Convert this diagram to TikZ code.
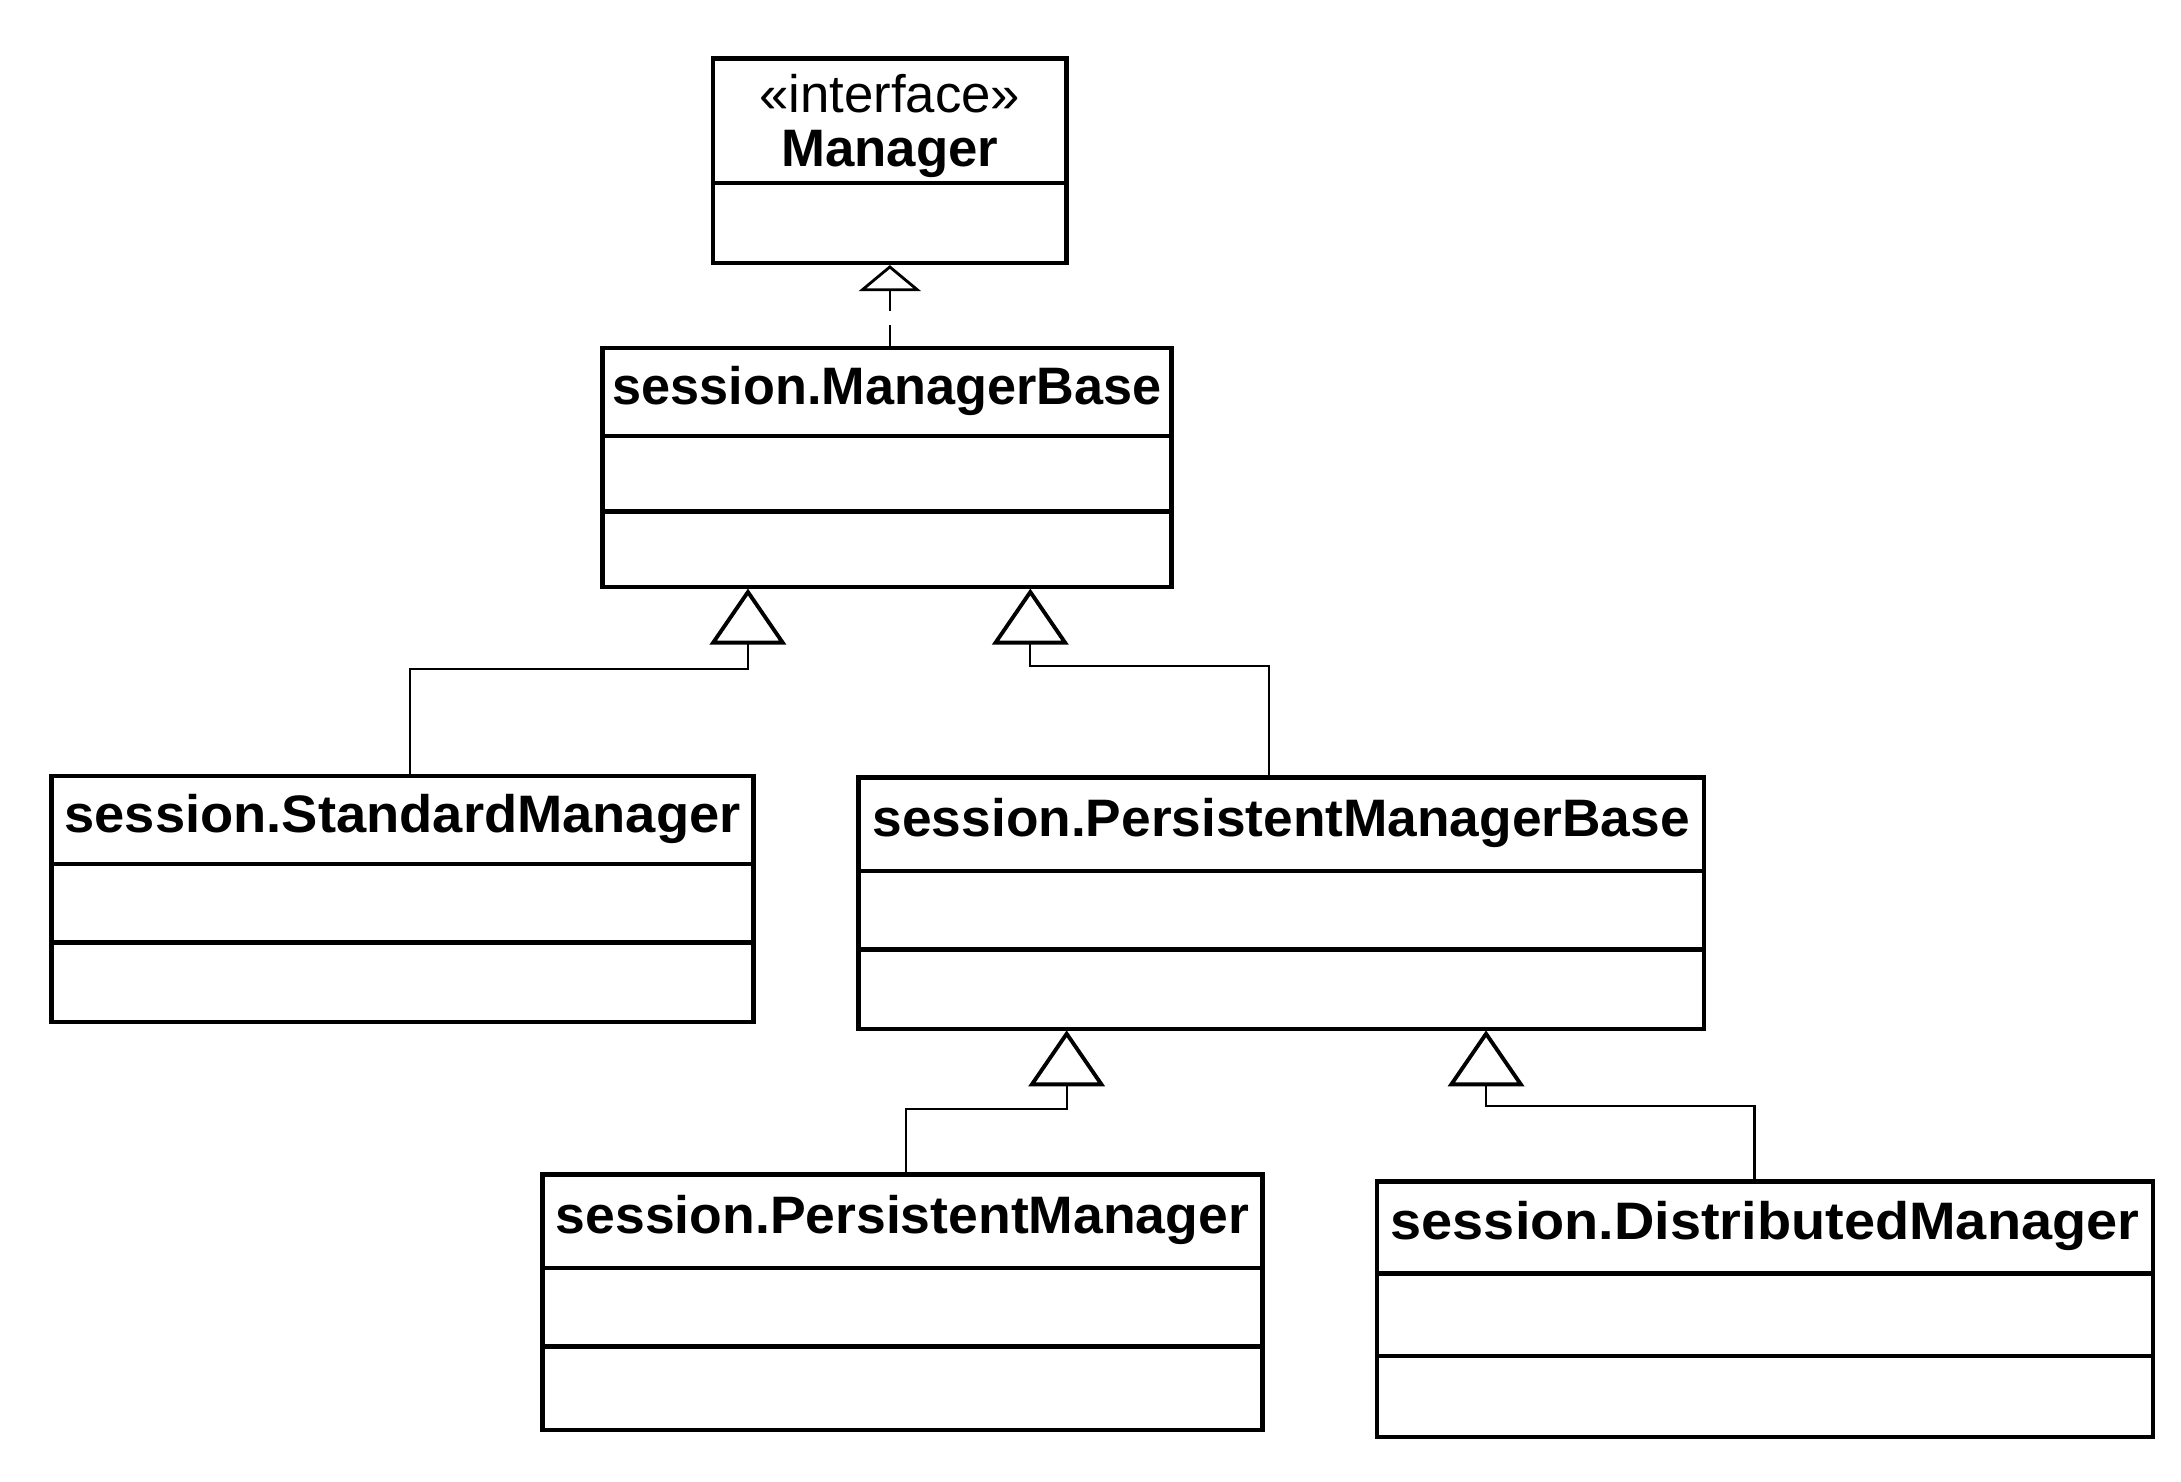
\documentclass[tikz,border=0pt]{standalone}
\usepackage{fontspec}
\usepackage{graphicx}
\setmainfont{Liberation Sans}
\usetikzlibrary{arrows.meta,fit,calc}
\tikzset{
  classbox/.style={draw, line width=1.3pt, inner sep=0pt, rectangle},
  sepline/.style={line width=1.3pt},
  titletext/.style={font=\fontsize{15}{16.5}\selectfont\bfseries, inner sep=0pt, anchor=center},
  gen/.style={line width=0.6pt, -{Triangle[open, width=0.76cm, length=0.56cm, line width=1.1pt]}},
  real/.style={line width=0.6pt, dash pattern=on 6pt off 4pt, -{Triangle[open, width=0.62cm, length=0.26cm, line width=0.8pt]}},
}
% #1 name, #2 x1, #3 y1, #4 x2, #5 y2, #6 sep1, #7 sep2, #8 title, #9 horizontal stretch
\newcommand\umlclassbox[9]{%
  \node[classbox, fit={(#2,#3) (#4,#5)}] (#1) {};
  \draw[sepline] (#1.west |- 0,#6) -- (#1.east |- 0,#6);
  \draw[sepline] (#1.west |- 0,#7) -- (#1.east |- 0,#7);
  \node[titletext] (#1-title) at ($(#1.north)!0.5!(#1.north |- 0,#6)$) {\scalebox{#9}[1]{#8}};
}
\begin{document}
\begin{tikzpicture}[x=0.01398cm, y=-0.01398cm]
\useasboundingbox[fill=white] (0,0) rectangle (1560.1,1059.4);

% interface Manager
\node[classbox, fit={(510,42) (763,188)}] (mgr) {};
\draw[sepline] (mgr.west |- 0,131) -- (mgr.east |- 0,131);
\node[align=center, inner sep=0pt, font=\fontsize{15}{15.3}\selectfont] (mgr-title) at (636.5,90) {«interface»\\\textbf{Manager}};

\umlclassbox{mb}{431}{249}{838}{420}{312}{366}{session.ManagerBase}{0.99}
\umlclassbox{sm}{37}{555}{539}{731}{618}{674}{session.StandardManager}{1.03}
\umlclassbox{pmb}{614}{556}{1219}{736}{623}{679}{session.PersistentManagerBase}{1.01}
\umlclassbox{pm}{388}{840}{903}{1023}{907}{963}{session.PersistentManager}{1.015}
\umlclassbox{dm}{985}{845}{1540}{1028}{911}{970}{session.DistributedManager}{1.06}

% target points on parents
\coordinate (mbL) at (535,421);
\coordinate (mbR) at (737,421);
\coordinate (pmbL) at (763,737);
\coordinate (pmbR) at (1063,737);

% realization
\draw[real] (mb.north -| mgr.south) -- (mgr.south);

% generalizations
\draw[gen] ($(sm.north)+(5,0)$) -- ++(0,-75) -| (mbL);
\draw[gen] ($(pmb.north)+(-8.5,0)$) -- ++(0,-78) -| (mbR);
\draw[gen] ($(pm.north)+(2.5,0)$) -- ++(0,-45) -| (pmbL);
\draw[gen] ($(dm.north)+(-7.5,0)$) -- ++(0,-52) -| (pmbR);
\end{tikzpicture}
\end{document}
